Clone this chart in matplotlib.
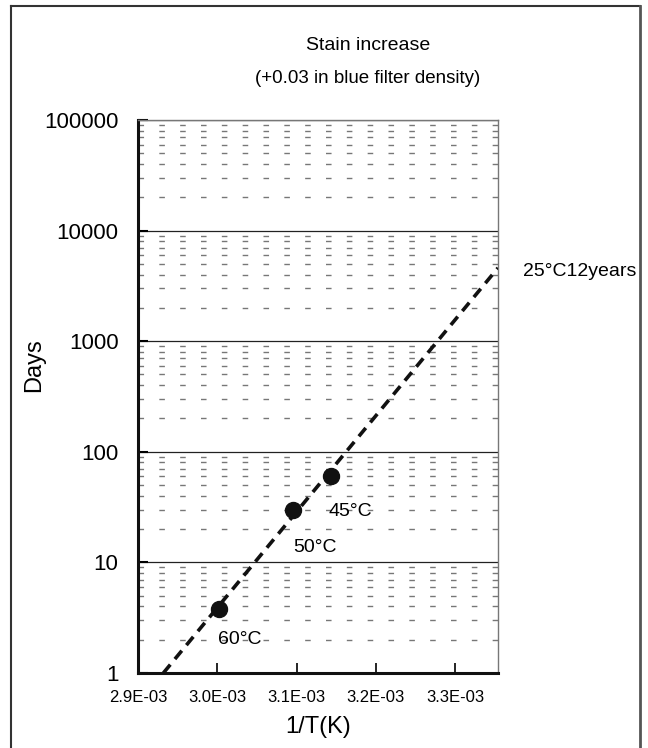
import numpy as np
import matplotlib.pyplot as plt
from matplotlib.ticker import FixedLocator, LogLocator, NullFormatter

plt.rcParams['font.family'] = ['Liberation Sans', 'DejaVu Sans']

# measured points (1/T in 1/K, days)
temps = ["60°C", "50°C", "45°C"]
inv_t = [3.002e-3, 3.095e-3, 3.143e-3]
days = [3.8, 30, 60]

# extrapolated line, from 1 day up to 25°C
fit_x = [2.932e-3, 3.354e-3]
fit_y = [1, 4600]

xticks = [2.9e-3, 3.0e-3, 3.1e-3, 3.2e-3, 3.3e-3]
xtick_labels = ["2.9E-03", "3.0E-03", "3.1E-03", "3.2E-03", "3.3E-03"]
yticks = [1, 10, 100, 1000, 10000, 100000]
ytick_labels = ["1", "10", "100", "1000", "10000", "100000"]

fig = plt.figure(figsize=(6.48, 7.48), dpi=100)
ax = fig.add_axes([0.213, 0.1003, 0.5555, 0.7393])

ax.set_yscale("log")
ax.set_xlim(2.9e-3, 3.354e-3)
ax.set_ylim(1, 100000)

# grid: solid at decades, short dashes in between
ax.yaxis.set_minor_locator(LogLocator(base=10, subs=np.arange(2, 10)))
ax.yaxis.set_minor_formatter(NullFormatter())
ax.grid(True, which="major", axis="y", color="#222222", lw=0.9)
ax.grid(True, which="minor", axis="y", color="#777777", lw=1.0, ls=(0, (4, 11)))
ax.set_axisbelow(True)

ax.plot(fit_x, fit_y, color="#111111", lw=2.6, ls=(0, (3, 2)), zorder=3)
ax.plot(inv_t, days, "o", color="#111111", ms=11.5, zorder=4)

ax.text(3.1405e-3, 28.6, temps[2], fontsize=14, ha="left", va="center")
ax.text(3.096e-3, 13.5, temps[1], fontsize=14, ha="left", va="center")
ax.text(3.001e-3, 1.99, temps[0], fontsize=14, ha="left", va="center")
ax.text(3.385e-3, 4300, "25°C12years", fontsize=14, ha="left", va="center",
        clip_on=False)

ax.xaxis.set_major_locator(FixedLocator(xticks))
ax.set_xticklabels(xtick_labels, fontsize=12)
ax.yaxis.set_major_locator(FixedLocator(yticks))
ax.set_yticklabels(ytick_labels, fontsize=16)
ax.tick_params(axis="x", direction="in", length=7, width=1.2, pad=12)
ax.tick_params(axis="y", which="major", direction="in", length=7, width=1.5, pad=14)
ax.tick_params(axis="y", which="minor", length=0)

for side in ["left", "bottom"]:
    ax.spines[side].set_linewidth(2.2)
    ax.spines[side].set_color("#111111")
for side in ["top", "right"]:
    ax.spines[side].set_linewidth(1.0)
    ax.spines[side].set_color("#777777")

ax.set_xlabel("1/T(K)", fontsize=17, labelpad=8)
ax.set_ylabel("Days", fontsize=17)
ax.yaxis.set_label_coords(-0.258, 0.557)
fig.text(0.568, 0.939, "Stain increase", fontsize=14, ha="center", va="center")
fig.text(0.568, 0.895, "(+0.03 in blue filter density)", fontsize=13.5,
         ha="center", va="center")

# outer frame
fig.add_artist(plt.Line2D([0.017, 0.017], [0, 0.992], color="#333333", lw=1.5))
fig.add_artist(plt.Line2D([0.017, 0.988], [0.992, 0.992], color="#333333", lw=1.5))
fig.add_artist(plt.Line2D([0.988, 0.988], [0, 0.992], color="#555555", lw=2))

fig.savefig("out.png", dpi=100)
